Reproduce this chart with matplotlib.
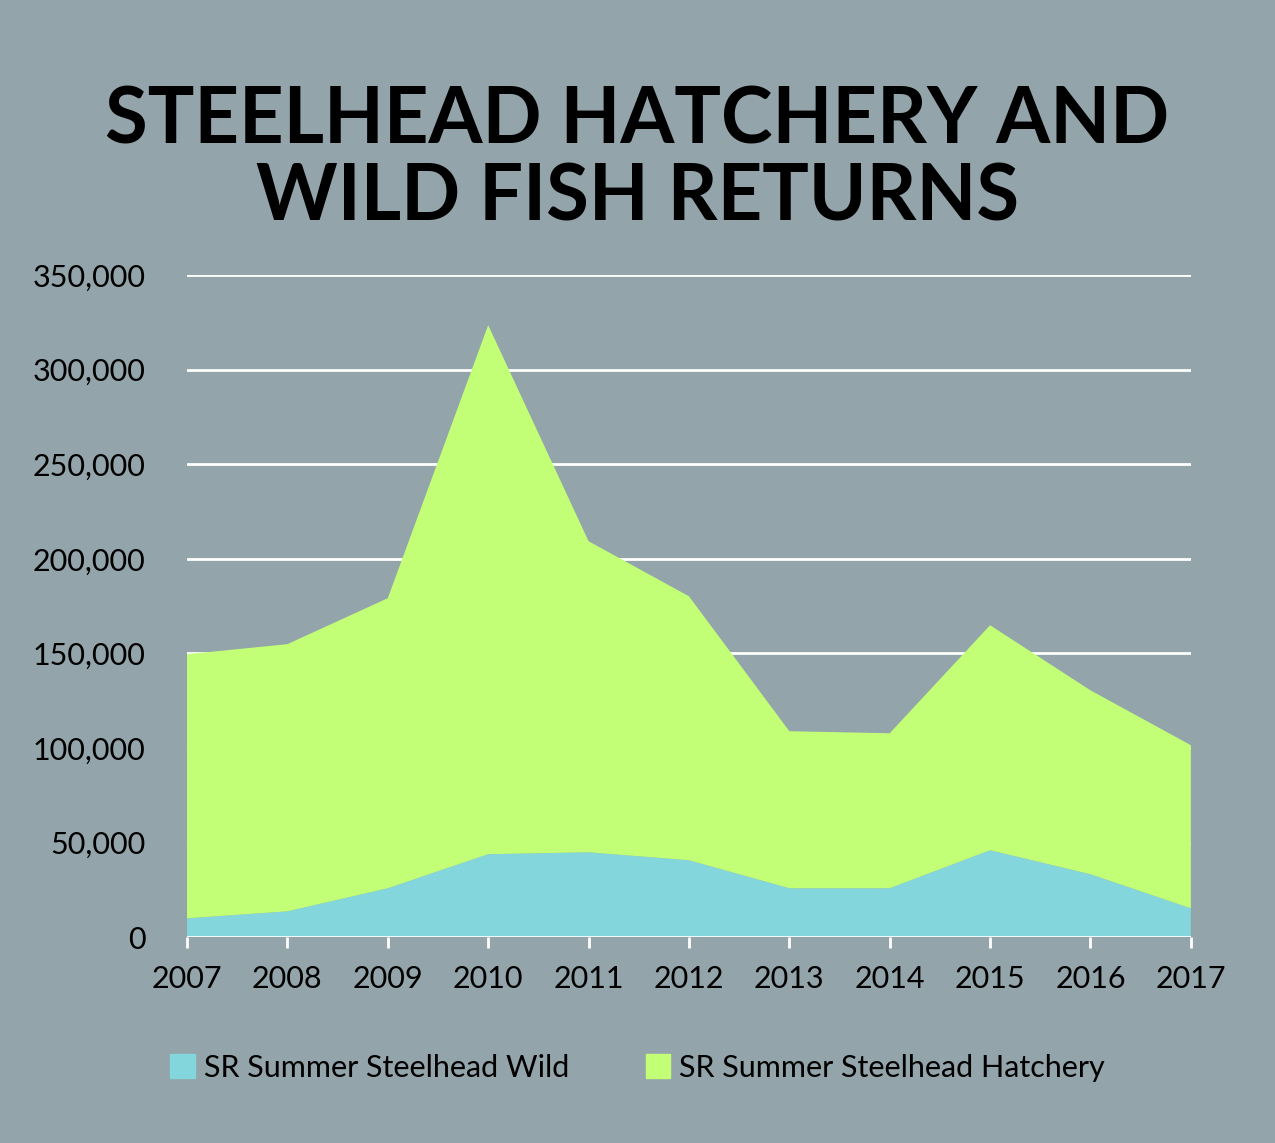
import matplotlib
matplotlib.use("Agg")
import matplotlib.pyplot as plt
from matplotlib.patches import Patch

years = [2007, 2008, 2009, 2010, 2011, 2012, 2013, 2014, 2015, 2016, 2017]
wild = [10000, 13700, 25900, 43900, 44900, 40700, 25900, 25900, 46000, 33300, 15300]
total = [149600, 154900, 179200, 323500, 209300, 180200, 108900, 107800, 164900, 130500, 101500]
hatchery = [t - w for t, w in zip(total, wild)]

bg = "#93A5AA"
c_wild = "#82D6DC"
c_hat = "#C2FF77"
plt.rcParams['font.family'] = ['Lato', 'DejaVu Sans']

fig = plt.figure(figsize=(12.75, 11.43), dpi=100, facecolor=bg)
ax = fig.add_axes([0.1467, 0.180, 0.934 - 0.1467, 0.7594 - 0.180], facecolor=bg)
ax.set_xlim(2007, 2017)
ax.set_ylim(0, 350000)
ax.set_yticks(range(0, 350001, 50000))
ax.set_yticklabels(["0"] + [f"{v:,}" for v in range(50000, 350001, 50000)])
ax.yaxis.grid(True, color="white", lw=2)
ax.set_axisbelow(True)
ax.stackplot(years, wild, hatchery, colors=[c_wild, c_hat], zorder=2)
for s in ax.spines.values():
    s.set_visible(False)
ax.axhline(0, color="white", lw=2, zorder=3)
ax.set_xticks(years)
ax.tick_params(axis='y', length=0, labelsize=22, pad=30, colors="black")
ax.tick_params(axis='x', length=8, width=2, color="white", labelsize=22, pad=12, colors="black")
for lab in ax.get_xticklabels():
    lab.set_color("black")
fig.text(0.5, 0.86, "STEELHEAD HATCHERY AND\nWILD FISH RETURNS", ha="center", va="center",
         fontsize=56, fontweight="bold", linespacing=1.1)
handles = [Patch(color=c_wild, label="SR Summer Steelhead Wild"),
           Patch(color=c_hat, label="SR Summer Steelhead Hatchery")]
fig.legend(handles=handles, loc="center", bbox_to_anchor=(0.5, 0.066), ncol=2, frameon=False,
           fontsize=22, handlelength=0.8, handleheight=0.8, columnspacing=2.5, handletextpad=0.3)
fig.savefig("out.png", dpi=100, facecolor=bg)
